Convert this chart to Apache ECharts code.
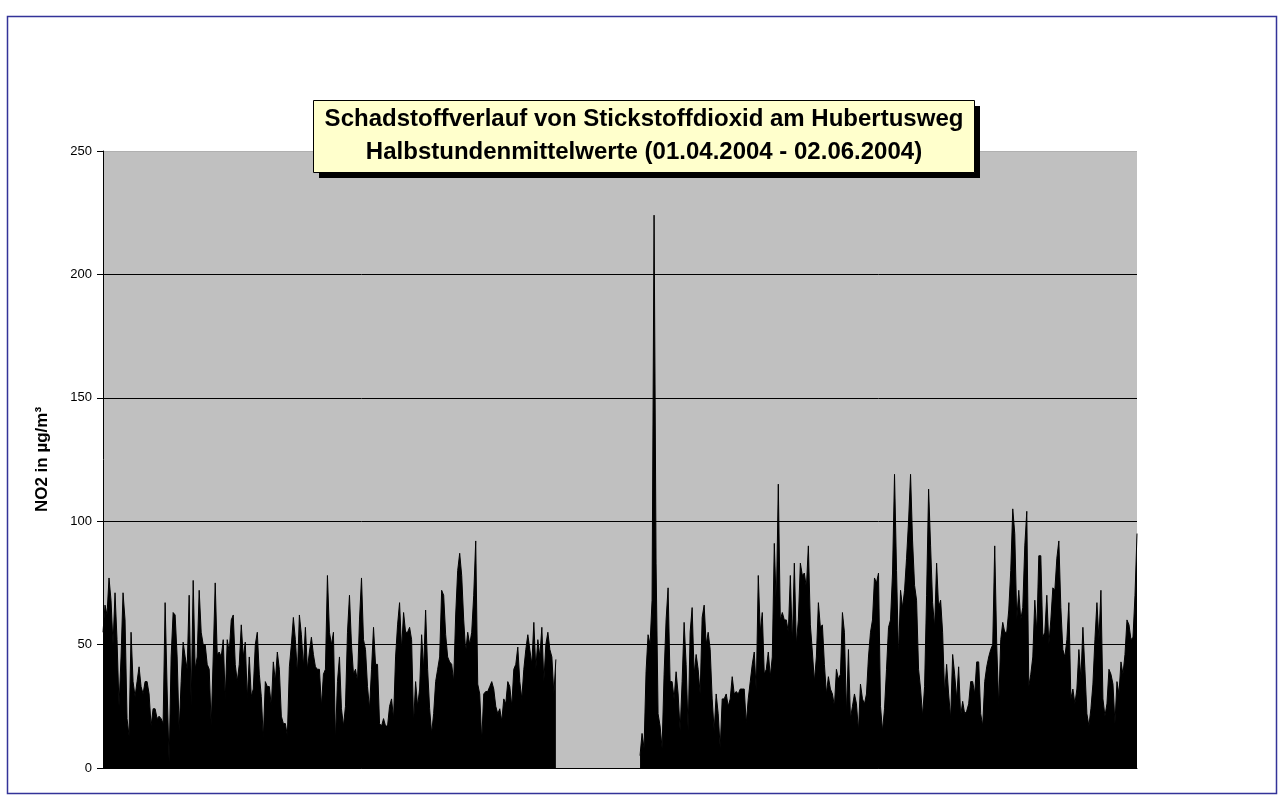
<!DOCTYPE html>
<html>
<head>
<meta charset="utf-8">
<script src="https://cdn.jsdelivr.net/npm/echarts@6/dist/echarts.min.js"></script>
<style>
  html, body { margin: 0; padding: 0; background: #fff; }
  #chart { width: 1284px; height: 799px; }
</style>
</head>
<body>
<div id="chart"></div>
<script>
// NO2 half-hour values (one point per ~2 px, peaks and dips)
var part1 = [
  55, 66, 62, 77, 68, 50, 71, 52, 25, 45, 71, 60, 20, 13, 55, 35, 29, 35, 41, 33,
  30, 35, 35, 30, 17, 24, 24, 20, 21, 20, 18, 67, 32, 2, 45, 63, 62, 45, 15, 35,
  51, 45, 40, 70, 25, 76, 40, 45, 72, 55, 50, 50, 42, 40, 17, 45, 75, 46, 47, 45,
  52, 28, 52, 47, 60, 62, 42, 35, 42, 58, 45, 51, 28, 45, 29, 32, 50, 55, 38, 29,
  12, 35, 33, 33, 25, 43, 35, 47, 40, 21, 18, 18, 13, 41, 50, 61, 52, 38, 62, 54,
  41, 57, 40, 47, 53, 46, 41, 40, 40, 25, 38, 40, 78, 55, 50, 55, 11, 35, 45, 24,
  17, 25, 55, 70, 50, 38, 40, 35, 60, 77, 52, 48, 33, 24, 40, 57, 42, 42, 18, 17,
  20, 17, 17, 25, 28, 20, 45, 58, 67, 48, 63, 55, 55, 57, 52, 18, 35, 25, 32, 54,
  40, 64, 40, 24, 14, 22, 35, 40, 45, 72, 70, 54, 45, 43, 42, 35, 62, 80, 87, 78,
  60, 47, 55, 50, 55, 70, 92, 34, 30, 11, 30, 31, 31, 33, 35, 32, 25, 22, 24, 19,
  28, 26, 35, 33, 25, 40, 42, 49, 35, 28, 40, 48, 54, 48, 42, 59, 40, 52, 45, 57,
  35, 50, 55, 48, 45, 30, 44
];
var gapLength = 41;
var part2 = [
  5, 14, 8, 39, 54, 50, 68, 224, 83, 22, 17, 8, 38, 60, 73, 35, 35, 28, 39, 30,
  15, 35, 59, 42, 15, 55, 65, 38, 46, 40, 30, 61, 66, 50, 55, 48, 28, 15, 30, 22,
  8, 28, 28, 30, 25, 28, 37, 30, 31, 30, 32, 32, 32, 18, 28, 35, 42, 47, 31, 78,
  55, 63, 38, 40, 47, 37, 45, 91, 65, 115, 60, 63, 60, 60, 55, 78, 50, 83, 50, 60,
  83, 78, 79, 73, 90, 58, 47, 35, 45, 67, 57, 58, 42, 30, 37, 32, 30, 25, 40, 36,
  38, 63, 55, 22, 48, 20, 25, 30, 26, 15, 34, 28, 26, 30, 45, 55, 60, 77, 75, 79,
  25, 15, 24, 40, 57, 60, 79, 119, 80, 45, 72, 65, 72, 85, 100, 119, 92, 74, 68, 40,
  32, 21, 33, 70, 113, 90, 67, 57, 83, 65, 68, 55, 30, 42, 30, 20, 46, 38, 28, 41,
  21, 27, 22, 23, 26, 35, 35, 30, 43, 43, 22, 17, 35, 41, 45, 48, 50, 90, 50, 25,
  52, 59, 55, 55, 64, 80, 105, 95, 60, 72, 60, 65, 90, 104, 33, 38, 45, 68, 55, 86,
  86, 53, 55, 70, 50, 60, 73, 72, 85, 92, 65, 48, 45, 52, 67, 28, 32, 26, 32, 48,
  36, 57, 40, 22, 17, 24, 34, 52, 67, 52, 72, 28, 21, 26, 40, 38, 34, 18, 35, 30,
  43, 38, 46, 60, 58, 52, 53, 70, 95
];
var yTicks = [0, 50, 100, 150, 200, 250];
var titleLines = [
  'Schadstoffverlauf von Stickstoffdioxid am Hubertusweg',
  'Halbstundenmittelwerte (01.04.2004 - 02.06.2004)'
];
var yName = 'NO2 in µg/m³';

var values = part1.slice();
for (var g = 0; g < gapLength; g++) values.push(null);
values = values.concat(part2);
var cats = values.map(function (v, i) { return i; });

var font = 'Liberation Sans, Arial, sans-serif';

var chart = echarts.init(document.getElementById('chart'));
chart.setOption({
  backgroundColor: '#ffffff',
  animation: false,
  graphic: [{
    type: 'rect',
    shape: { x: 7.5, y: 16.5, width: 1269, height: 777 },
    style: { fill: null, stroke: '#333399', lineWidth: 1.5 },
    silent: true,
    z: -1
  }, {
    // title box shadow
    type: 'rect',
    shape: { x: 319, y: 106, width: 661, height: 72 },
    style: { fill: '#000000' },
    silent: true,
    z: 10
  }, {
    type: 'rect',
    shape: { x: 313.5, y: 100.5, width: 661, height: 72 },
    style: { fill: '#FFFFCC', stroke: '#000000', lineWidth: 1 },
    silent: true,
    z: 11
  }, {
    type: 'text',
    x: 644,
    y: 119,
    style: {
      text: titleLines[0],
      font: 'bold 24px ' + font,
      fill: '#000000',
      textAlign: 'center',
      textVerticalAlign: 'middle'
    },
    silent: true,
    z: 12
  }, {
    type: 'text',
    x: 644,
    y: 152,
    style: {
      text: titleLines[1],
      font: 'bold 24px ' + font,
      fill: '#000000',
      textAlign: 'center',
      textVerticalAlign: 'middle'
    },
    silent: true,
    z: 12
  }],
  grid: {
    left: 103,
    right: 1284 - 1137,
    top: 151,
    bottom: 799 - 768,
    show: true,
    backgroundColor: '#C0C0C0',
    borderWidth: 0
  },
  xAxis: {
    type: 'category',
    data: cats,
    boundaryGap: false,
    axisLine: { show: true, lineStyle: { color: '#000000', width: 1 } },
    axisTick: { show: false },
    axisLabel: { show: false },
    splitLine: { show: false }
  },
  yAxis: {
    type: 'value',
    min: yTicks[0],
    max: yTicks[yTicks.length - 1],
    interval: 50,
    name: yName,
    nameLocation: 'middle',
    nameGap: 52,
    nameTextStyle: {
      fontFamily: font,
      fontSize: 17,
      fontWeight: 'bold',
      color: '#000000'
    },
    axisLine: { show: true, lineStyle: { color: '#000000', width: 1 } },
    axisTick: { show: true, inside: false, length: 6, lineStyle: { color: '#000000' } },
    axisLabel: {
      fontFamily: font,
      fontSize: 13,
      color: '#000000',
      margin: 11
    },
    splitLine: {
      show: true,
      lineStyle: {
        color: ['#000000', '#000000', '#000000', '#000000', '#000000', '#B0B0B0'],
        width: 1
      }
    }
  },
  series: [{
    type: 'line',
    data: values,
    symbol: 'none',
    sampling: null,
    connectNulls: false,
    lineStyle: { color: '#000000', width: 1 },
    areaStyle: { color: '#000000', opacity: 1 },
    z: 3
  }]
});
</script>
</body>
</html>
